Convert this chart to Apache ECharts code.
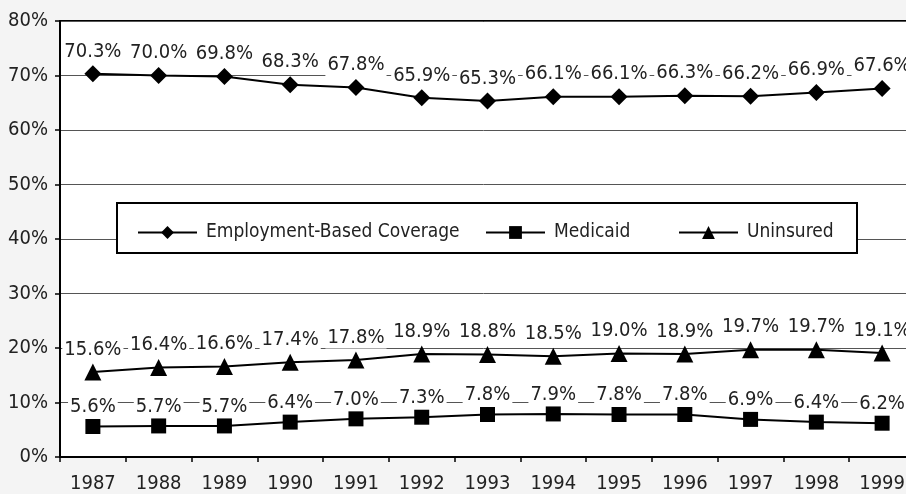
<!DOCTYPE html>
<html>
<head>
<meta charset="utf-8">
<script src="https://cdn.jsdelivr.net/npm/echarts@6/dist/echarts.min.js"></script>
<style>
  html, body { margin: 0; padding: 0; background: #f4f4f4; }
  #chart { width: 906px; height: 494px; }
</style>
</head>
<body>
<div id="chart"></div>
<script>
// values
const years = ["1987", "1988", "1989", "1990", "1991", "1992", "1993", "1994", "1995", "1996", "1997", "1998", "1999"];
const employment = [70.3, 70.0, 69.8, 68.3, 67.8, 65.9, 65.3, 66.1, 66.1, 66.3, 66.2, 66.9, 67.6];
const medicaid = [5.6, 5.7, 5.7, 6.4, 7.0, 7.3, 7.8, 7.9, 7.8, 7.8, 6.9, 6.4, 6.2];
const uninsured = [15.6, 16.4, 16.6, 17.4, 17.8, 18.9, 18.8, 18.5, 19.0, 18.9, 19.7, 19.7, 19.1];

const font = "'Liberation Sans Narrow', 'DejaVu Sans Condensed', sans-serif";
const chart = echarts.init(document.getElementById("chart"));

// label with white box so it hides the gridline behind it
function pctLabel(dist) {
  return {
    show: true,
    position: "top",
    distance: dist,
    formatter: (p) => p.value.toFixed(1) + "%",
    fontFamily: font,
    fontSize: 20,
    color: "#222",
    backgroundColor: "#fff",
    padding: [1, 2],
  };
}

function legendAt(name, left) {
  return {
    data: [name],
    left: left,
    top: 218,
    itemWidth: 59,
    itemHeight: 16,
    z: 5,
    textStyle: { fontFamily: font, fontSize: 19, color: "#222", padding: [0, 0, 0, 4] },
  };
}

chart.setOption({
  backgroundColor: "#f4f4f4",
  animation: false,
  grid: {
    left: 60,
    right: -9,
    top: 21,
    bottom: 37,
    outerBoundsMode: "none",
    show: true,
    backgroundColor: "#fff",
    borderColor: "#000",
    borderWidth: 2,
  },
  legend: [
    legendAt("Employment-Based Coverage", 132),
    legendAt("Medicaid", 480),
    legendAt("Uninsured", 673),
  ],
  graphic: {
    elements: [
      {
        type: "rect",
        z: 4,
        shape: { x: 117, y: 203, width: 740, height: 50 },
        style: { fill: "#fff", stroke: "#000", lineWidth: 2 },
      },
    ],
  },
  xAxis: {
    type: "category",
    data: years,
    boundaryGap: true,
    axisLine: { lineStyle: { color: "#000", width: 2 } },
    axisTick: { show: true, length: 5, lineStyle: { color: "#000", width: 1.5 } },
    axisLabel: { fontFamily: font, fontSize: 20, color: "#222", margin: 17 },
  },
  yAxis: {
    type: "value",
    min: 0,
    max: 80,
    interval: 10,
    axisLine: { show: true, lineStyle: { color: "#000", width: 2 } },
    axisTick: { show: true, length: 5, lineStyle: { color: "#000", width: 1.5 } },
    axisLabel: { fontFamily: font, fontSize: 20, color: "#222", margin: 12, formatter: "{value}%" },
    splitLine: { lineStyle: { color: "#555", width: 1 } },
  },
  series: [
    {
      name: "Employment-Based Coverage",
      type: "line",
      data: employment,
      symbol: "diamond",
      symbolSize: 17,
      itemStyle: { color: "#000" },
      lineStyle: { color: "#000", width: 2 },
      label: pctLabel(3),
    },
    {
      name: "Medicaid",
      type: "line",
      data: medicaid,
      symbol: "rect",
      symbolSize: 15,
      itemStyle: { color: "#000" },
      lineStyle: { color: "#000", width: 2 },
      label: pctLabel(1),
    },
    {
      name: "Uninsured",
      type: "line",
      data: uninsured,
      symbol: "triangle",
      symbolSize: 17,
      itemStyle: { color: "#000" },
      lineStyle: { color: "#000", width: 2 },
      label: pctLabel(3),
    },
  ],
});
</script>
</body>
</html>
